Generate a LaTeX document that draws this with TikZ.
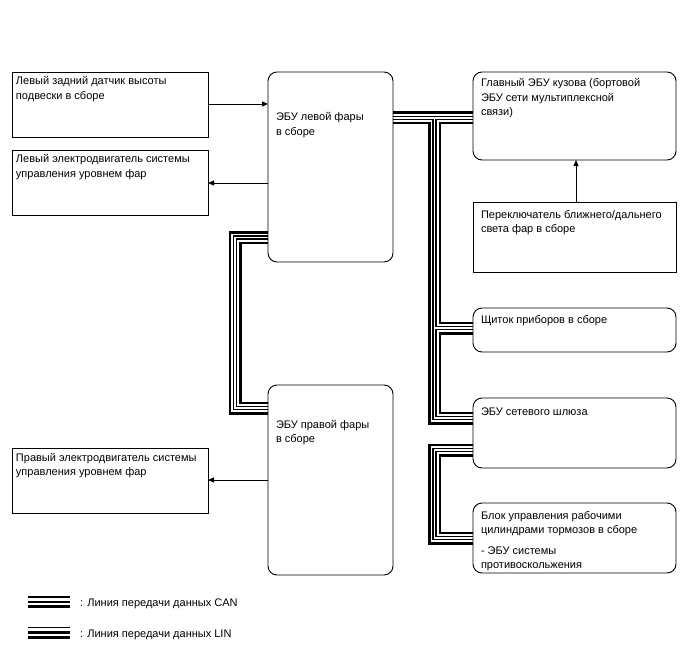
\documentclass[tikz,border=0pt]{standalone}
\usepackage{fontspec}
\setmainfont{Liberation Sans}
\usetikzlibrary{arrows.meta}
\tikzset{
  sbox/.style={draw=none, fill=none, inner sep=0pt, outer sep=0pt, anchor=north west},
  txt/.style={anchor=north west, inner sep=0pt, outer sep=0pt, align=left, font=\fontsize{11}{14.5}\selectfont},
  arr/.style={draw=black, line width=0.8pt, -{Triangle[length=6pt,width=5pt]}},
  frame/.style={line width=0.9pt},
  rframe/.style={line width=0.9pt, rounded corners=9pt},
  legtxt/.style={anchor=base west, inner sep=0pt, font=\fontsize{11}{13}\selectfont},
}
\newcommand\busall[1]{%
  \draw[#1] (ECUL.east |- 0,118) -- (BODY.west |- 0,118);
  \draw[#1] (434.5,118) -- (434.5,418) -- (GW.west |- 0,418);
  \draw[#1] (434.5,328) -- (METER.west |- 0,328);
  \draw[#1] (GW.west |- 0,450) -- (434.5,450) -- (434.5,538) -- (BRAKE.west |- 0,538);
  \draw[#1] (ECUL.west |- 0,237.5) -- (235,237.5) -- (235,408) -- (ECUR.west |- 0,408);
}
\begin{document}
\begin{tikzpicture}[x=1pt,y=-1pt]
\useasboundingbox (0,0) rectangle (688,658);
% box placeholders
\path
  (12,72) node[sbox, minimum width=196pt, minimum height=65pt] (L1) {}
  (12,150) node[sbox, minimum width=196pt, minimum height=65pt] (L2) {}
  (12,448) node[sbox, minimum width=196pt, minimum height=65pt] (L3) {}
  (268,72) node[sbox, minimum width=125pt, minimum height=190pt] (ECUL) {}
  (268,385) node[sbox, minimum width=125pt, minimum height=190pt] (ECUR) {}
  (473,72) node[sbox, minimum width=203pt, minimum height=88pt] (BODY) {}
  (473,202) node[sbox, minimum width=203pt, minimum height=70pt] (SW) {}
  (473,308) node[sbox, minimum width=203pt, minimum height=44pt] (METER) {}
  (473,398) node[sbox, minimum width=203pt, minimum height=70pt] (GW) {}
  (473,503) node[sbox, minimum width=203pt, minimum height=70pt] (BRAKE) {};
% buses
\busall{black, line width=13pt}
\busall{white, line width=8pt}
\busall{black, line width=4.4pt}
\busall{white, line width=1.8pt}
% visible boxes
\draw[frame] (L1.north west) rectangle (L1.south east);
\draw[frame] (L2.north west) rectangle (L2.south east);
\draw[frame] (L3.north west) rectangle (L3.south east);
\draw[frame] (SW.north west) rectangle (SW.south east);
\draw[rframe] (ECUL.north west) rectangle (ECUL.south east);
\draw[rframe] (ECUR.north west) rectangle (ECUR.south east);
\draw[rframe] (BODY.north west) rectangle (BODY.south east);
\draw[rframe] (METER.north west) rectangle (METER.south east);
\draw[rframe] (GW.north west) rectangle (GW.south east);
\draw[rframe] (BRAKE.north west) rectangle (BRAKE.south east);
% texts
\node[txt] (L1t) at (16,74.85) {\strut Левый задний датчик высоты\\подвески в сборе};
\node[txt] (L2t) at (16,152.85) {\strut Левый электродвигатель системы\\управления уровнем фар};
\node[txt] (L3t) at (16,450.85) {\strut Правый электродвигатель системы\\управления уровнем фар};
\node[txt] (ECULt) at (276,110.85) {\strut ЭБУ левой фары\\в сборе};
\node[txt] (ECURt) at (276,417.85) {\strut ЭБУ правой фары\\в сборе};
\node[txt] (BODYt) at (481,76.85) {\strut Главный ЭБУ кузова (бортовой\\ЭБУ сети мультиплексной\\связи)};
\node[txt] (SWt) at (481,207.85) {\strut Переключатель ближнего/дальнего\\света фар в сборе};
\node[txt] (METERt) at (481,312.85) {\strut Щиток приборов в сборе};
\node[txt] (GWt) at (481,404.85) {\strut ЭБУ сетевого шлюза};
\node[txt, font=\fontsize{11}{13.7}\selectfont] (BRAKEt) at (481,510.4) {\strut Блок управления рабочими\\цилиндрами тормозов в сборе\\[7pt]- ЭБУ системы\\противоскольжения};
% arrows
\draw[arr] (L1.east |- 0,104) -- (ECUL.west |- 0,104);
\draw[arr] (ECUL.west |- 0,183) -- (L2.east |- 0,183);
\draw[arr] (ECUR.west |- 0,480) -- (L3.east |- 0,480);
\draw[arr] (SW.north -| 576,0) -- (BODY.south -| 576,0);
% legend
\coordinate (canA) at (28,597);
\coordinate (canB) at (70,597);
\draw[line width=1.7pt] (canA) -- (canB);
\draw[line width=1.7pt] ([yshift=-4.7pt]canA) -- ([yshift=-4.7pt]canB);
\draw[line width=2.8pt] ([yshift=-9.6pt]canA) -- ([yshift=-9.6pt]canB);
\node[legtxt] (canT) at (80,606) {: Линия передачи данных CAN};
\coordinate (linA) at (28,627.5);
\coordinate (linB) at (70,627.5);
\draw[line width=1.7pt] (linA) -- (linB);
\draw[line width=2.8pt] ([yshift=-4.9pt]linA) -- ([yshift=-4.9pt]linB);
\draw[line width=2.8pt] ([yshift=-9.8pt]linA) -- ([yshift=-9.8pt]linB);
\node[legtxt] (linT) at (80,637) {: Линия передачи данных LIN};
\end{tikzpicture}
\end{document}
